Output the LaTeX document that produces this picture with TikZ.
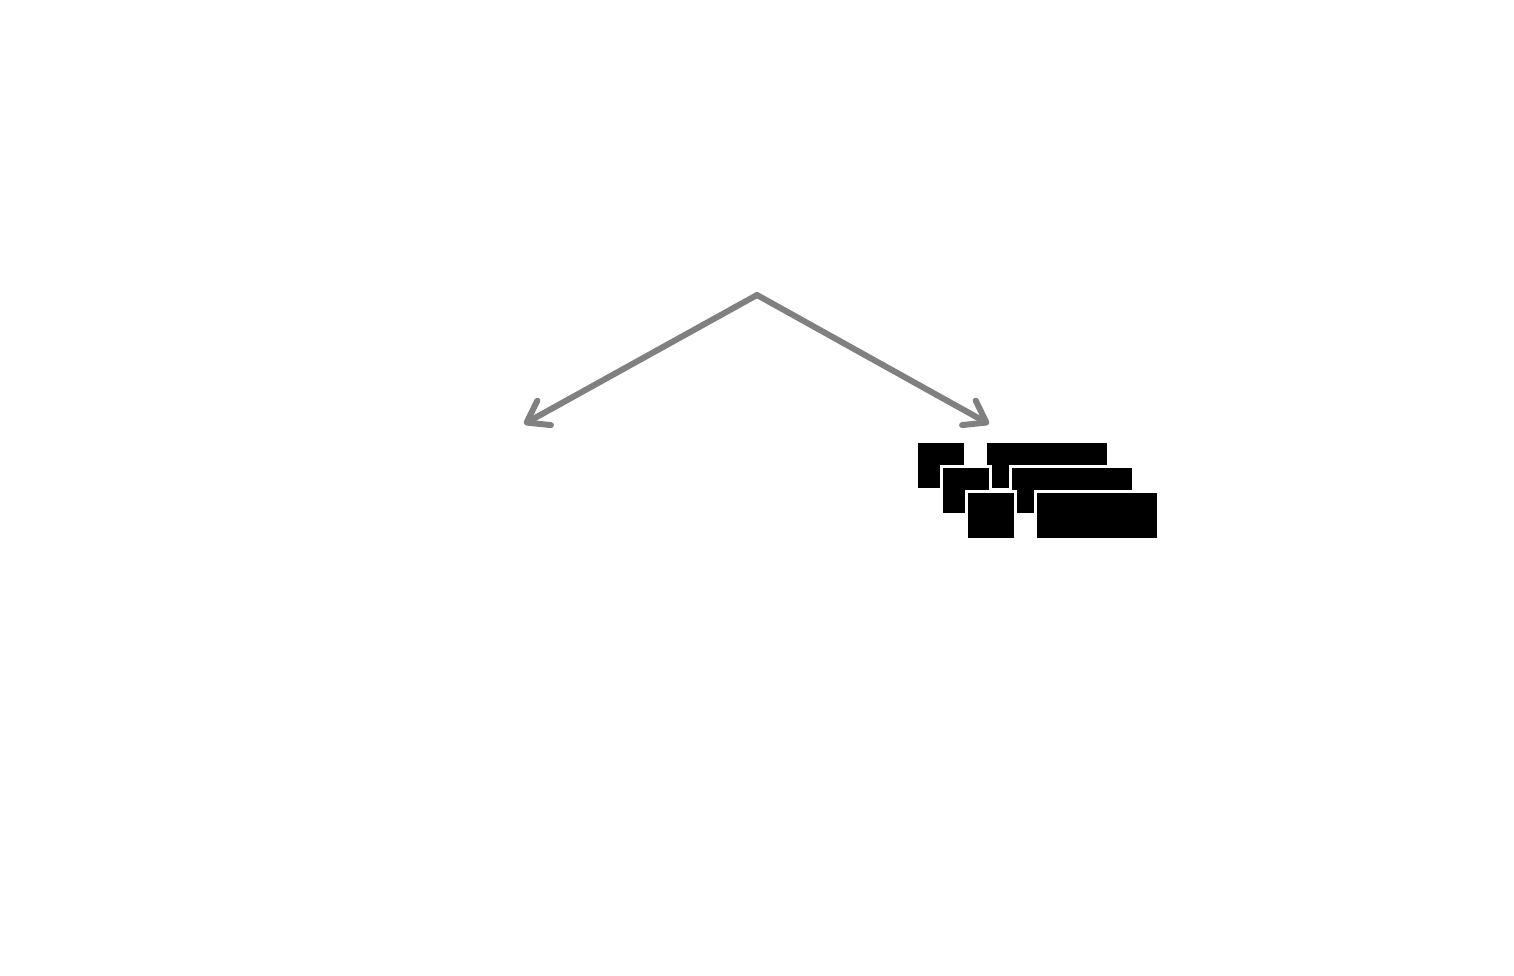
\documentclass[tikz,border=0pt]{standalone}
\usetikzlibrary{arrows.meta}
\definecolor{arrowgray}{RGB}{128,128,128}
\tikzset{
  flow/.style={draw=arrowgray, line width=6pt, line cap=round, line join=round,
    -{Straight Barb[length=20pt,width=28pt,line cap=round,line join=round]}},
  block/.style={fill=black, draw=white, line width=3pt}
}
\begin{document}
\begin{tikzpicture}[x=1pt,y=-1pt]
\useasboundingbox (0,0) rectangle (1514,976);
\coordinate (apex) at (757,295);
\coordinate (leftend) at (524,424);
\coordinate (rightend) at (989,424);
\draw[flow] (apex) -- (leftend);
\draw[flow] (apex) -- (rightend);
% stacked blocks: three rows, each offset by (25,25)
\foreach \i in {0,1,2}{
  \pgfmathsetmacro{\d}{25*\i}
  \filldraw[block] (916.5+\d,441.5+\d) rectangle (965.5+\d,489.5+\d);
  \filldraw[block] (985.5+\d,441.5+\d) rectangle (1108.5+\d,489.5+\d);
}
\end{tikzpicture}
\end{document}
